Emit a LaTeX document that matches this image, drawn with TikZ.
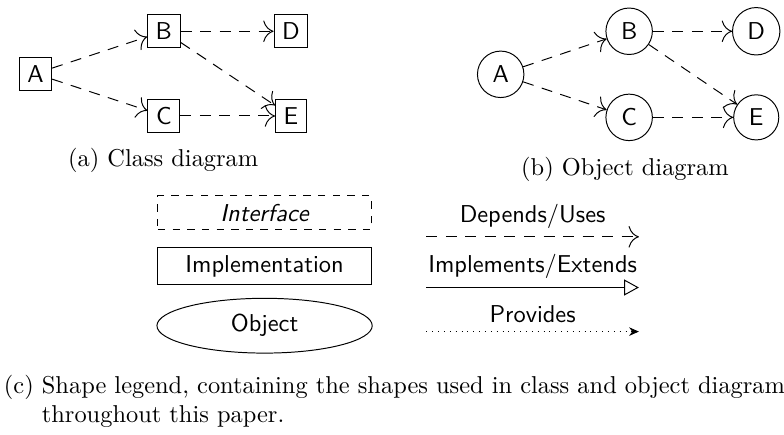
\documentclass[tikz,border=0pt]{standalone}
\usepackage{tikz}
\usetikzlibrary{arrows.meta,shapes.geometric}

\begin{document}
\begin{tikzpicture}[
    every node/.style={font=\sffamily},
    cls/.style={draw,rectangle},
    obj/.style={draw,circle},
    dep/.style={dash pattern=on 4.5pt off 3.5pt,-{To[scale=1.7]}},
    legendbox/.style={draw,rectangle,minimum width=3.07cm},
    caption/.style={font=\rmfamily,anchor=base,inner sep=0pt}]
\useasboundingbox (0,0) rectangle (11.29,-6.25);

% class diagram
\foreach \n/\x/\y in {A/0.51/-1.06,B/2.36/-0.45,C/2.36/-1.67,D/4.19/-0.45,E/4.19/-1.67}
  \node[cls] (c\n) at (\x,\y) {\n};
\foreach \s/\t in {A/B,A/C,B/D,B/E,C/E}
  \draw[dep] (c\s) -- (c\t);
\node[caption] (capa) at (2.35,-2.40) {(a) Class diagram};

% object diagram
\foreach \n/\x/\y in {A/7.21/-1.07,B/9.06/-0.45,C/9.06/-1.69,D/10.89/-0.45,E/10.89/-1.69}
  \node[obj] (o\n) at (\x,\y) {\n};
\foreach \s/\t in {A/B,A/C,B/D,B/E,C/E}
  \draw[dep] (o\s) -- (o\t);
\node[caption] (capb) at (9.00,-2.52) {(b) Object diagram};

% legend: shapes
\node[legendbox,dashed] (iface) at (3.81,-3.065) {\itshape Interface};
\node[legendbox] (impl) at (3.81,-3.83) {Implementation};
\node[draw,ellipse,minimum width=3.10cm,minimum height=0.75cm] (object) at (3.81,-4.69) {Object};

% legend: connectors
\coordinate (dep1) at (6.14,-3.41);
\coordinate (dep2) at (9.20,-3.41);
\coordinate (ext1) at (6.14,-4.14);
\coordinate (ext2) at (9.20,-4.14);
\coordinate (prov1) at (6.14,-4.775);
\coordinate (prov2) at (9.20,-4.775);
\draw[dep] (dep1) -- node[above] (deplbl) {Depends/Uses} (dep2);
\draw[-{Triangle[open,length=6pt,width=6.5pt]}] (ext1) -- node[above] (extlbl) {Implements/Extends} (ext2);
\draw[dotted,-{Stealth[length=4pt,width=3.5pt]}] (prov1) -- node[above] (provlbl) {Provides} (prov2);

\node[caption,anchor=base west] (capc) at (0.05,-5.66)
  {\begin{tabular}[t]{@{}l@{\ }l@{}}
   (c) & Shape legend, containing the shapes used in class and object diagrams\\
       & throughout this paper.
   \end{tabular}};
\end{tikzpicture}
\end{document}
